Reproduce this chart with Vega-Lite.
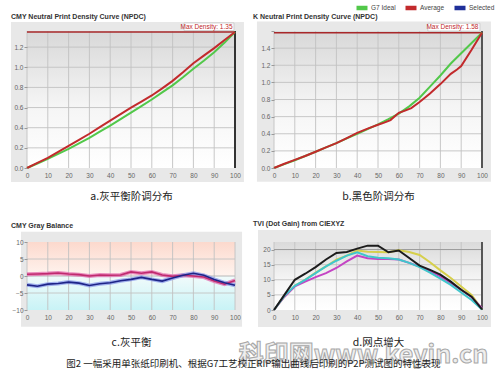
{
  "$schema": "https://vega.github.io/schema/vega-lite/v6.json",
  "padding": {"left": 10, "top": 0, "right": 0, "bottom": 0},
  "background": "white",
  "config": {
    "font": "Liberation Sans",
    "view": {"stroke": null},
    "axis": {"labelFontSize": 6.5, "labelColor": "#666666", "labelOverlap": false, "labelFlush": false, "grid": false, "domain": false, "tickColor": "#9a9a9a", "tickSize": 3, "titleFont": "Noto Sans CJK SC", "titleFontWeight": "normal", "titleFontSize": 10.5, "titleColor": "#222222"},
    "title": {"font": "Liberation Sans", "fontSize": 7, "fontWeight": "bold", "color": "#333333", "anchor": "start", "frame": "group"},
    "rule": {"color": "#c2c2c2", "strokeWidth": 0.9}
  },
  "resolve": {"scale": {"color": "independent"}, "legend": {"color": "independent"}},
  "columns": 2,
  "spacing": {"row": 74, "column": 39},
  "align": "each",
  "bounds": "flush",
  "concat": [
    {
      "width": 208, "height": 137,
      "title": {"text": "CMY Neutral Print Density Curve (NPDC)", "offset": 2, "dx": -16},
      "data": {"values": [{}]},
      "layer": [
        {"mark": {"type": "rect", "color": "#e8e8e8", "clip": false},
         "encoding": {
           "x": {"datum": -7.7, "type": "quantitative", "scale": {"domain": [0, 100], "nice": false, "zero": false},
                 "axis": {"tickCount": 10, "ticks": false, "labelPadding": 4, "zindex": 1, "title": "a.灰平衡阶调分布", "titlePadding": 13}},
           "x2": {"datum": 104.3},
           "y": {"datum": 1.45, "type": "quantitative", "scale": {"domain": [0, 1.36], "nice": false, "zero": false},
                 "axis": {"tickCount": 7, "format": ".1f", "title": null, "labelPadding": 1, "zindex": 1}},
           "y2": {"datum": -0.14}}},
        {"mark": {"type": "rect", "color": {"gradient": "linear", "x1": 0, "y1": 0, "x2": 0, "y2": 1, "stops": [{"offset": 0, "color": "#d8d8d8"}, {"offset": 0.55, "color": "#f5f5f5"}, {"offset": 1, "color": "#ffffff"}]}},
         "encoding": {"x": {"datum": 0}, "x2": {"datum": 100}, "y": {"datum": 0}, "y2": {"datum": 1.36}}},
        {"mark": "rule", "encoding": {"x": {"datum": 0}}},
        {"mark": "rule", "encoding": {"x": {"datum": 10}}},
        {"mark": "rule", "encoding": {"x": {"datum": 20}}},
        {"mark": "rule", "encoding": {"x": {"datum": 30}}},
        {"mark": "rule", "encoding": {"x": {"datum": 40}}},
        {"mark": "rule", "encoding": {"x": {"datum": 50}}},
        {"mark": "rule", "encoding": {"x": {"datum": 60}}},
        {"mark": "rule", "encoding": {"x": {"datum": 70}}},
        {"mark": "rule", "encoding": {"x": {"datum": 80}}},
        {"mark": "rule", "encoding": {"x": {"datum": 90}}},
        {"mark": "rule", "encoding": {"y": {"datum": 0.2}}},
        {"mark": "rule", "encoding": {"y": {"datum": 0.4}}},
        {"mark": "rule", "encoding": {"y": {"datum": 0.6}}},
        {"mark": "rule", "encoding": {"y": {"datum": 0.8}}},
        {"mark": "rule", "encoding": {"y": {"datum": 1.0}}},
        {"mark": "rule", "encoding": {"y": {"datum": 1.2}}},
        {"mark": {"type": "rule", "color": "#a8282a", "strokeWidth": 1.5}, "encoding": {"y": {"datum": 1.35}}},
        {"mark": {"type": "rule", "color": "#333333", "strokeWidth": 2}, "encoding": {"x": {"datum": 100}}},
        {"data": {"values": [
          {"x":0,"d":0,"s":"G7 Ideal"},{"x":5,"d":0.045,"s":"G7 Ideal"},{"x":10,"d":0.09,"s":"G7 Ideal"},{"x":15,"d":0.14,"s":"G7 Ideal"},{"x":20,"d":0.19,"s":"G7 Ideal"},{"x":25,"d":0.245,"s":"G7 Ideal"},{"x":30,"d":0.30,"s":"G7 Ideal"},{"x":35,"d":0.36,"s":"G7 Ideal"},{"x":40,"d":0.42,"s":"G7 Ideal"},{"x":45,"d":0.485,"s":"G7 Ideal"},{"x":50,"d":0.55,"s":"G7 Ideal"},{"x":55,"d":0.615,"s":"G7 Ideal"},{"x":60,"d":0.68,"s":"G7 Ideal"},{"x":65,"d":0.75,"s":"G7 Ideal"},{"x":70,"d":0.82,"s":"G7 Ideal"},{"x":75,"d":0.90,"s":"G7 Ideal"},{"x":80,"d":0.985,"s":"G7 Ideal"},{"x":85,"d":1.065,"s":"G7 Ideal"},{"x":90,"d":1.15,"s":"G7 Ideal"},{"x":95,"d":1.245,"s":"G7 Ideal"},{"x":100,"d":1.35,"s":"G7 Ideal"},
          {"x":0,"d":0,"s":"Average"},{"x":5,"d":0.05,"s":"Average"},{"x":10,"d":0.10,"s":"Average"},{"x":15,"d":0.16,"s":"Average"},{"x":20,"d":0.22,"s":"Average"},{"x":25,"d":0.28,"s":"Average"},{"x":30,"d":0.34,"s":"Average"},{"x":35,"d":0.405,"s":"Average"},{"x":40,"d":0.47,"s":"Average"},{"x":45,"d":0.535,"s":"Average"},{"x":50,"d":0.60,"s":"Average"},{"x":55,"d":0.66,"s":"Average"},{"x":60,"d":0.72,"s":"Average"},{"x":65,"d":0.79,"s":"Average"},{"x":70,"d":0.865,"s":"Average"},{"x":75,"d":0.95,"s":"Average"},{"x":80,"d":1.04,"s":"Average"},{"x":85,"d":1.115,"s":"Average"},{"x":90,"d":1.19,"s":"Average"},{"x":95,"d":1.27,"s":"Average"},{"x":100,"d":1.35,"s":"Average"}]},
         "mark": {"type": "line", "strokeWidth": 2},
         "encoding": {"x": {"field": "x", "type": "quantitative"}, "y": {"field": "d", "type": "quantitative"},
           "color": {"field": "s", "type": "nominal", "scale": {"domain": ["G7 Ideal", "Average", "Selected"], "range": ["#52c84a", "#c22a2c", "#1f2f99"]}, "legend": null}}},
        {"mark": {"type": "rect", "fill": "#ffffff", "stroke": "#bbbbbb", "strokeWidth": 0.6, "clip": false},
         "encoding": {"x": {"datum": 75.5}, "x2": {"datum": 99.5}, "y": {"datum": 1.365}, "y2": {"datum": 1.44}}},
        {"mark": {"type": "text", "text": "Max Density: 1.35", "align": "right", "baseline": "middle", "fontSize": 6.5, "color": "#c0282a", "clip": false},
         "encoding": {"x": {"datum": 98.8}, "y": {"datum": 1.402}}}
      ]
    },
    {
      "width": 208, "height": 137,
      "title": {"text": "K Neutral Print Density Curve (NPDC)", "offset": -20, "dx": -21},
      "data": {"values": [{}]},
      "layer": [
        {"mark": {"type": "rect", "color": "#e8e8e8", "clip": false},
         "encoding": {
           "x": {"datum": -8.2, "type": "quantitative", "scale": {"domain": [0, 100], "nice": false, "zero": false},
                 "axis": {"tickCount": 10, "ticks": false, "labelPadding": 4, "zindex": 1, "title": "b.黑色阶调分布", "titlePadding": 13}},
           "x2": {"datum": 104.3},
           "y": {"datum": 1.71, "type": "quantitative", "scale": {"domain": [0, 1.6], "nice": false, "zero": false},
                 "axis": {"tickCount": 8, "labelExpr": "datum.value > 1.5 ? '' : format(datum.value, '.1f')", "title": null, "labelPadding": 1, "zindex": 1}},
           "y2": {"datum": -0.16}}},
        {"mark": {"type": "rect", "color": {"gradient": "linear", "x1": 0, "y1": 0, "x2": 0, "y2": 1, "stops": [{"offset": 0, "color": "#d8d8d8"}, {"offset": 0.55, "color": "#f5f5f5"}, {"offset": 1, "color": "#ffffff"}]}},
         "encoding": {"x": {"datum": 0}, "x2": {"datum": 100}, "y": {"datum": 0}, "y2": {"datum": 1.6}}},
        {"mark": "rule", "encoding": {"x": {"datum": 0}}},
        {"mark": "rule", "encoding": {"x": {"datum": 10}}},
        {"mark": "rule", "encoding": {"x": {"datum": 20}}},
        {"mark": "rule", "encoding": {"x": {"datum": 30}}},
        {"mark": "rule", "encoding": {"x": {"datum": 40}}},
        {"mark": "rule", "encoding": {"x": {"datum": 50}}},
        {"mark": "rule", "encoding": {"x": {"datum": 60}}},
        {"mark": "rule", "encoding": {"x": {"datum": 70}}},
        {"mark": "rule", "encoding": {"x": {"datum": 80}}},
        {"mark": "rule", "encoding": {"x": {"datum": 90}}},
        {"mark": "rule", "encoding": {"y": {"datum": 0.2}}},
        {"mark": "rule", "encoding": {"y": {"datum": 0.4}}},
        {"mark": "rule", "encoding": {"y": {"datum": 0.6}}},
        {"mark": "rule", "encoding": {"y": {"datum": 0.8}}},
        {"mark": "rule", "encoding": {"y": {"datum": 1.0}}},
        {"mark": "rule", "encoding": {"y": {"datum": 1.2}}},
        {"mark": "rule", "encoding": {"y": {"datum": 1.4}}},
        {"mark": {"type": "rule", "color": "#a8282a", "strokeWidth": 1.5}, "encoding": {"y": {"datum": 1.58}}},
        {"mark": {"type": "rule", "color": "#555555", "strokeWidth": 2}, "encoding": {"x": {"datum": 100}}},
        {"data": {"values": [
          {"x":0,"d":0,"s":"G7 Ideal"},{"x":5,"d":0.045,"s":"G7 Ideal"},{"x":10,"d":0.09,"s":"G7 Ideal"},{"x":15,"d":0.14,"s":"G7 Ideal"},{"x":20,"d":0.19,"s":"G7 Ideal"},{"x":25,"d":0.24,"s":"G7 Ideal"},{"x":30,"d":0.29,"s":"G7 Ideal"},{"x":35,"d":0.345,"s":"G7 Ideal"},{"x":40,"d":0.40,"s":"G7 Ideal"},{"x":45,"d":0.455,"s":"G7 Ideal"},{"x":50,"d":0.51,"s":"G7 Ideal"},{"x":55,"d":0.57,"s":"G7 Ideal"},{"x":60,"d":0.635,"s":"G7 Ideal"},{"x":65,"d":0.72,"s":"G7 Ideal"},{"x":70,"d":0.82,"s":"G7 Ideal"},{"x":75,"d":0.95,"s":"G7 Ideal"},{"x":80,"d":1.08,"s":"G7 Ideal"},{"x":85,"d":1.22,"s":"G7 Ideal"},{"x":90,"d":1.34,"s":"G7 Ideal"},{"x":95,"d":1.46,"s":"G7 Ideal"},{"x":100,"d":1.58,"s":"G7 Ideal"},
          {"x":0,"d":0,"s":"Average"},{"x":5,"d":0.05,"s":"Average"},{"x":10,"d":0.095,"s":"Average"},{"x":15,"d":0.14,"s":"Average"},{"x":20,"d":0.19,"s":"Average"},{"x":25,"d":0.24,"s":"Average"},{"x":30,"d":0.29,"s":"Average"},{"x":35,"d":0.35,"s":"Average"},{"x":40,"d":0.41,"s":"Average"},{"x":45,"d":0.46,"s":"Average"},{"x":50,"d":0.505,"s":"Average"},{"x":53,"d":0.53,"s":"Average"},{"x":56,"d":0.56,"s":"Average"},{"x":60,"d":0.645,"s":"Average"},{"x":63,"d":0.67,"s":"Average"},{"x":66,"d":0.70,"s":"Average"},{"x":70,"d":0.77,"s":"Average"},{"x":75,"d":0.87,"s":"Average"},{"x":80,"d":0.98,"s":"Average"},{"x":85,"d":1.10,"s":"Average"},{"x":88,"d":1.15,"s":"Average"},{"x":90,"d":1.19,"s":"Average"},{"x":95,"d":1.38,"s":"Average"},{"x":100,"d":1.58,"s":"Average"}]},
         "mark": {"type": "line", "strokeWidth": 2},
         "encoding": {"x": {"field": "x", "type": "quantitative"}, "y": {"field": "d", "type": "quantitative"},
           "color": {"field": "s", "type": "nominal", "scale": {"domain": ["G7 Ideal", "Average", "Selected"], "range": ["#52c84a", "#c22a2c", "#1f2f99"]},
             "legend": {"orient": "none", "legendX": 80, "legendY": -31, "direction": "horizontal", "title": null, "symbolType": "stroke", "symbolStrokeWidth": 4.5, "symbolSize": 121, "labelFontSize": 6.5, "labelColor": "#444444", "columnPadding": 0, "labelOffset": 1, "gridAlign": "none", "padding": 0}}}},
        {"mark": {"type": "rect", "fill": "#ffffff", "stroke": "#bbbbbb", "strokeWidth": 0.6, "clip": false},
         "encoding": {"x": {"datum": 74}, "x2": {"datum": 99}, "y": {"datum": 1.6}, "y2": {"datum": 1.69}}},
        {"mark": {"type": "text", "text": "Max Density: 1.58", "align": "right", "baseline": "middle", "fontSize": 6.5, "color": "#c0282a", "clip": false},
         "encoding": {"x": {"datum": 98.3}, "y": {"datum": 1.645}}}
      ]
    },
    {
      "width": 208, "height": 68,
      "title": {"text": "CMY Gray Balance", "offset": 3, "dx": -16},
      "data": {"values": [{}]},
      "resolve": {"scale": {"color": "independent"}},
      "layer": [
        {"mark": {"type": "rect", "color": "#e8e8e8", "clip": false},
         "encoding": {
           "x": {"datum": -2.9, "type": "quantitative", "scale": {"domain": [0, 100], "nice": false, "zero": false},
                 "axis": {"tickCount": 10, "ticks": false, "labelPadding": 4, "zindex": 1, "title": "c.灰平衡", "titlePadding": 17}},
           "x2": {"datum": 103.4},
           "y": {"datum": 13, "type": "quantitative", "scale": {"domain": [-10, 10], "nice": false, "zero": false},
                 "axis": {"tickCount": 4, "title": null, "labelPadding": 1, "zindex": 1}},
           "y2": {"datum": -14.9}}},
        {"mark": {"type": "rect", "color": {"gradient": "linear", "x1": 0, "y1": 0, "x2": 0, "y2": 1, "stops": [{"offset": 0, "color": "#fcd9cd"}, {"offset": 0.5, "color": "#fff4ef"}, {"offset": 0.5, "color": "#f1fbfb"}, {"offset": 1, "color": "#c8f3f6"}]}},
         "encoding": {"x": {"datum": 0}, "x2": {"datum": 100}, "y": {"datum": 10}, "y2": {"datum": -10}}},
        {"mark": "rule", "encoding": {"x": {"datum": 0}}},
        {"mark": "rule", "encoding": {"x": {"datum": 10}}},
        {"mark": "rule", "encoding": {"x": {"datum": 20}}},
        {"mark": "rule", "encoding": {"x": {"datum": 30}}},
        {"mark": "rule", "encoding": {"x": {"datum": 40}}},
        {"mark": "rule", "encoding": {"x": {"datum": 50}}},
        {"mark": "rule", "encoding": {"x": {"datum": 60}}},
        {"mark": "rule", "encoding": {"x": {"datum": 70}}},
        {"mark": "rule", "encoding": {"x": {"datum": 80}}},
        {"mark": "rule", "encoding": {"x": {"datum": 90}}},
        {"mark": "rule", "encoding": {"x": {"datum": 100}}},
        {"mark": "rule", "encoding": {"y": {"datum": -5}}},
        {"mark": {"type": "rule", "color": "#b0b0b0"}, "encoding": {"y": {"datum": 0}}},
        {"mark": "rule", "encoding": {"y": {"datum": 5}}},
        {"data": {"name": "gb", "values": [
          {"x":0,"v":0.5,"s":"M"},{"x":5,"v":0.6,"s":"M"},{"x":10,"v":0.7,"s":"M"},{"x":15,"v":0.9,"s":"M"},{"x":20,"v":0.6,"s":"M"},{"x":25,"v":0.4,"s":"M"},{"x":30,"v":0.0,"s":"M"},{"x":35,"v":0.3,"s":"M"},{"x":40,"v":0.2,"s":"M"},{"x":45,"v":0.3,"s":"M"},{"x":50,"v":1.2,"s":"M"},{"x":55,"v":0.8,"s":"M"},{"x":60,"v":1.2,"s":"M"},{"x":65,"v":0.3,"s":"M"},{"x":70,"v":-0.1,"s":"M"},{"x":75,"v":0.2,"s":"M"},{"x":80,"v":0.0,"s":"M"},{"x":85,"v":-0.3,"s":"M"},{"x":90,"v":-1.5,"s":"M"},{"x":95,"v":-2.4,"s":"M"},{"x":100,"v":-1.3,"s":"M"},
          {"x":0,"v":-2.6,"s":"B"},{"x":5,"v":-3.0,"s":"B"},{"x":10,"v":-2.4,"s":"B"},{"x":15,"v":-2.2,"s":"B"},{"x":20,"v":-1.8,"s":"B"},{"x":25,"v":-2.1,"s":"B"},{"x":30,"v":-2.8,"s":"B"},{"x":35,"v":-2.3,"s":"B"},{"x":40,"v":-2.0,"s":"B"},{"x":45,"v":-1.4,"s":"B"},{"x":50,"v":-1.0,"s":"B"},{"x":55,"v":-0.4,"s":"B"},{"x":60,"v":-1.0,"s":"B"},{"x":65,"v":-1.5,"s":"B"},{"x":70,"v":-0.6,"s":"B"},{"x":75,"v":0.2,"s":"B"},{"x":80,"v":0.8,"s":"B"},{"x":85,"v":0.2,"s":"B"},{"x":90,"v":-1.0,"s":"B"},{"x":95,"v":-2.0,"s":"B"},{"x":100,"v":-2.7,"s":"B"}]},
         "mark": {"type": "line", "strokeWidth": 4, "opacity": 0.75},
         "encoding": {"x": {"field": "x", "type": "quantitative"}, "y": {"field": "v", "type": "quantitative"},
           "color": {"field": "s", "type": "nominal", "scale": {"domain": ["M", "B"], "range": ["#e26aae", "#8a98e8"]}, "legend": null}}},
        {"data": {"name": "gb"},
         "mark": {"type": "line", "strokeWidth": 1.6},
         "encoding": {"x": {"field": "x", "type": "quantitative"}, "y": {"field": "v", "type": "quantitative"},
           "color": {"field": "s", "type": "nominal", "scale": {"domain": ["M", "B"], "range": ["#c02a6e", "#1e2488"]}, "legend": null}}}
      ]
    },
    {
      "width": 208, "height": 68,
      "title": {"text": "TVI (Dot Gain) from CIEXYZ", "offset": 3, "dx": -21},
      "data": {"values": [{}]},
      "layer": [
        {"mark": {"type": "rect", "color": "#e8e8e8", "clip": false},
         "encoding": {
           "x": {"datum": -7.7, "type": "quantitative", "scale": {"domain": [0, 100], "nice": false, "zero": false},
                 "axis": {"tickCount": 10, "ticks": false, "labelPadding": 4, "zindex": 1, "title": "d.网点增大", "titlePadding": 17}},
           "x2": {"datum": 104.3},
           "y": {"datum": 26.5, "type": "quantitative", "scale": {"domain": [0, 22.5], "nice": false, "zero": false},
                 "axis": {"tickCount": 5, "title": null, "labelPadding": 1, "zindex": 1}},
           "y2": {"datum": -5.6}}},
        {"mark": {"type": "rect", "color": {"gradient": "linear", "x1": 0, "y1": 0, "x2": 0, "y2": 1, "stops": [{"offset": 0, "color": "#dadada"}, {"offset": 0.55, "color": "#f5f5f5"}, {"offset": 1, "color": "#ffffff"}]}},
         "encoding": {"x": {"datum": 0}, "x2": {"datum": 100}, "y": {"datum": 0}, "y2": {"datum": 22.5}}},
        {"mark": "rule", "encoding": {"x": {"datum": 0}}},
        {"mark": "rule", "encoding": {"x": {"datum": 10}}},
        {"mark": "rule", "encoding": {"x": {"datum": 20}}},
        {"mark": "rule", "encoding": {"x": {"datum": 30}}},
        {"mark": "rule", "encoding": {"x": {"datum": 40}}},
        {"mark": "rule", "encoding": {"x": {"datum": 50}}},
        {"mark": "rule", "encoding": {"x": {"datum": 60}}},
        {"mark": "rule", "encoding": {"x": {"datum": 70}}},
        {"mark": "rule", "encoding": {"x": {"datum": 80}}},
        {"mark": "rule", "encoding": {"x": {"datum": 90}}},
        {"mark": "rule", "encoding": {"y": {"datum": 5}}},
        {"mark": "rule", "encoding": {"y": {"datum": 10}}},
        {"mark": "rule", "encoding": {"y": {"datum": 15}}},
        {"mark": {"type": "rule", "color": "#9a9a9a", "strokeWidth": 1}, "encoding": {"y": {"datum": 20}}},
        {"mark": {"type": "rule", "color": "#555555", "strokeWidth": 2}, "encoding": {"x": {"datum": 100}}},
        {"data": {"values": [
          {"x":0,"v":0,"s":"Y"},{"x":5,"v":4.4,"s":"Y"},{"x":10,"v":8,"s":"Y"},{"x":15,"v":10,"s":"Y"},{"x":20,"v":12.4,"s":"Y"},{"x":25,"v":14.4,"s":"Y"},{"x":30,"v":16.7,"s":"Y"},{"x":35,"v":18,"s":"Y"},{"x":40,"v":19.7,"s":"Y"},{"x":45,"v":19.3,"s":"Y"},{"x":50,"v":19.2,"s":"Y"},{"x":55,"v":19.1,"s":"Y"},{"x":60,"v":19.8,"s":"Y"},{"x":65,"v":19.2,"s":"Y"},{"x":70,"v":18.2,"s":"Y"},{"x":75,"v":15.8,"s":"Y"},{"x":80,"v":13.1,"s":"Y"},{"x":85,"v":10.6,"s":"Y"},{"x":90,"v":7.8,"s":"Y"},{"x":95,"v":5,"s":"Y"},{"x":100,"v":0.2,"s":"Y"},
          {"x":0,"v":0,"s":"M"},{"x":5,"v":4.4,"s":"M"},{"x":10,"v":7.8,"s":"M"},{"x":15,"v":9.4,"s":"M"},{"x":20,"v":10.9,"s":"M"},{"x":25,"v":12.2,"s":"M"},{"x":30,"v":13.9,"s":"M"},{"x":35,"v":16.1,"s":"M"},{"x":40,"v":18,"s":"M"},{"x":45,"v":17.1,"s":"M"},{"x":50,"v":16.9,"s":"M"},{"x":55,"v":16.9,"s":"M"},{"x":60,"v":16.7,"s":"M"},{"x":65,"v":15.6,"s":"M"},{"x":70,"v":14.4,"s":"M"},{"x":75,"v":12.8,"s":"M"},{"x":80,"v":11.1,"s":"M"},{"x":85,"v":8.9,"s":"M"},{"x":90,"v":6.7,"s":"M"},{"x":95,"v":4.2,"s":"M"},{"x":100,"v":0.6,"s":"M"},
          {"x":0,"v":0,"s":"C"},{"x":5,"v":4.7,"s":"C"},{"x":10,"v":8,"s":"C"},{"x":15,"v":10,"s":"C"},{"x":20,"v":12.2,"s":"C"},{"x":25,"v":14.4,"s":"C"},{"x":30,"v":16.3,"s":"C"},{"x":35,"v":18,"s":"C"},{"x":40,"v":19.1,"s":"C"},{"x":45,"v":17.8,"s":"C"},{"x":50,"v":17.3,"s":"C"},{"x":55,"v":17.1,"s":"C"},{"x":60,"v":16.7,"s":"C"},{"x":65,"v":15.6,"s":"C"},{"x":70,"v":14.2,"s":"C"},{"x":75,"v":12.4,"s":"C"},{"x":80,"v":10.4,"s":"C"},{"x":85,"v":8.3,"s":"C"},{"x":90,"v":5.8,"s":"C"},{"x":95,"v":3.3,"s":"C"},{"x":100,"v":0.2,"s":"C"},
          {"x":0,"v":0,"s":"K"},{"x":5,"v":5,"s":"K"},{"x":10,"v":10,"s":"K"},{"x":15,"v":12,"s":"K"},{"x":20,"v":14.2,"s":"K"},{"x":25,"v":16.7,"s":"K"},{"x":30,"v":18.9,"s":"K"},{"x":35,"v":19.2,"s":"K"},{"x":40,"v":20.3,"s":"K"},{"x":45,"v":21.3,"s":"K"},{"x":50,"v":21.3,"s":"K"},{"x":55,"v":19.1,"s":"K"},{"x":60,"v":19.7,"s":"K"},{"x":65,"v":17.2,"s":"K"},{"x":70,"v":14.7,"s":"K"},{"x":75,"v":13.3,"s":"K"},{"x":80,"v":11.7,"s":"K"},{"x":85,"v":9.4,"s":"K"},{"x":90,"v":6.7,"s":"K"},{"x":95,"v":4.4,"s":"K"},{"x":100,"v":0.2,"s":"K"}]},
         "mark": {"type": "line", "strokeWidth": 2},
         "encoding": {"x": {"field": "x", "type": "quantitative"}, "y": {"field": "v", "type": "quantitative"},
           "color": {"field": "s", "type": "nominal", "scale": {"domain": ["Y", "M", "C", "K"], "range": ["#d6cf4c", "#c444c4", "#40c6cc", "#1c1c1c"]}, "legend": null}}},
        {"mark": {"type": "text", "text": "科印网www.keyin.cn", "align": "center", "baseline": "middle", "font": "Noto Sans CJK SC", "fontWeight": "bold", "fontSize": 25, "fill": "#eeeeee", "stroke": "#a8a8a8", "strokeWidth": 1, "clip": false},
         "encoding": {"x": {"datum": 43}, "y": {"datum": -15}}},
        {"mark": {"type": "text", "text": "图2  一幅采用单张纸印刷机、根据G7工艺校正RIP输出曲线后印刷的P2P测试图的特性表现", "align": "center", "baseline": "middle", "font": "Noto Sans CJK SC", "fontSize": 9.5, "color": "#222222", "clip": false},
         "encoding": {"x": {"datum": -9.9}, "y": {"datum": -17.8}}}
      ]
    }
  ]
}
